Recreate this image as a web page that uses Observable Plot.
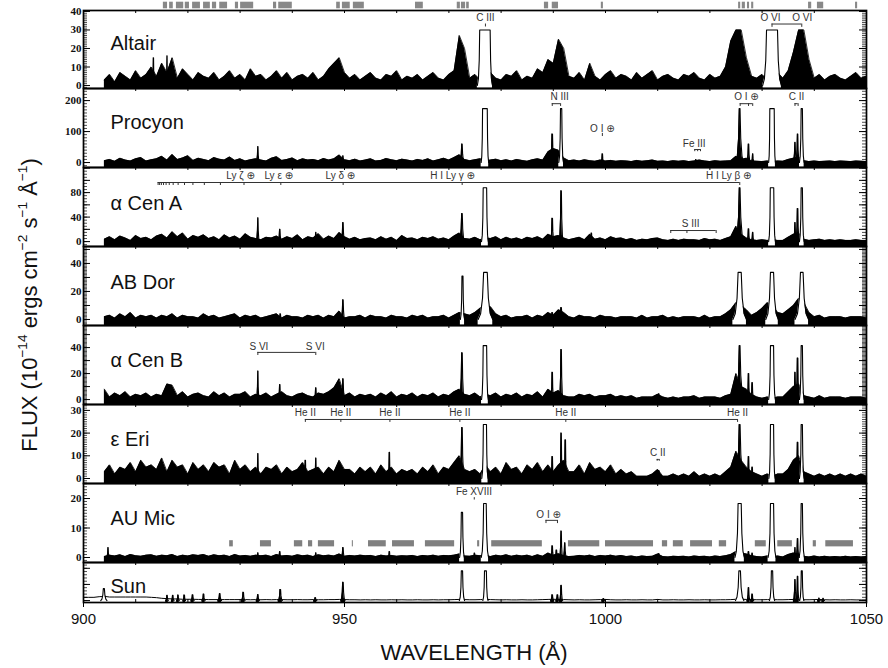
<!DOCTYPE html>
<html><head><meta charset="utf-8">
<script src="https://cdn.jsdelivr.net/npm/d3@7"></script>
<script src="https://cdn.jsdelivr.net/npm/@observablehq/plot@0.6"></script>
<style>
body{margin:0;background:#fff;}
#wrap{position:relative;width:888px;height:668px;font-family:"Liberation Sans",Arial,sans-serif;}
#wrap svg{position:absolute;left:0;overflow:visible;}
.ttl{position:absolute;font-size:22px;color:#111;white-space:nowrap;}
.ttl sup{font-size:0.62em;vertical-align:0.7em;line-height:0;}
</style></head><body><div id="wrap"></div>
<script>
// ---------------- DATA ----------------
const xDomain = [900, 1050];
const xLabels = [900, 950, 1000, 1050];
const fluxStart = 904;   // first wavelength of the 1 Å sampled stellar spectra
const sunStart = 900;

const altairFlux = [3,6,2,7,5,3,8,4,6,10, 5,12,7,15,4,9,6,3,7,5, 4,7,3,5,8,4,6,3,9,5, 6,3,5,8,4,7,3,5,6,4,
  7,3,5,9,12,15,7,4,6,3, 5,7,4,3,6,5,8,3,5,4, 6,3,5,7,4,3,6,8,27,20, 4,6,3,5,7,4,3,6,5,8,
  3,5,4,9,7,14,12,25,20,5, 4,7,3,12,5,3,6,8,4,6, 5,3,7,4,6,8,3,5,6,4, 3,6,5,7,4,3,6,4,5,10,
  24,30,30,15,5,4,6,3,5,7, 4,8,18,30,30,14,4,6,3,5, 6,4,3,5,7,4,5];
const procyonFlux = [6,10,4,14,8,5,12,16,5,9, 12,20,8,26,10,15,22,7,14,10, 6,16,11,8,18,7,12,5,9,12, 8,5,14,19,7,10,15,6,12,8,
  10,6,13,8,12,24,9,6,11,5, 8,12,5,7,13,9,6,11,8,5, 10,7,12,5,9,14,8,16,25,10, 6,9,12,5,8,11,6,9,5,10,
  7,4,9,12,8,35,45,40,15,6, 8,5,9,6,4,8,5,7,4,6, 5,3,7,4,6,8,4,5,3,6, 4,6,3,5,8,5,3,6,4,5,
  6,20,10,14,5,4,3,5,3,5, 4,10,14,18,6,3,5,3,4,5, 3,5,4,3,5,4,3];
const cenAFlux = [4,8,3,9,6,2,10,5,7,3, 9,12,6,16,8,14,4,10,7,11, 5,8,3,11,6,9,4,13,7,5, 3,7,6,9,4,8,5,11,3,8,
  6,13,4,9,5,15,8,4,7,3, 5,6,3,8,4,7,2,10,5,6, 3,7,5,8,4,6,3,9,14,5, 4,7,3,6,5,8,3,7,4,6,
  3,7,5,8,4,12,8,10,6,3, 5,7,3,12,4,6,3,8,5,6, 3,5,2,4,3,5,6,3,2,4, 2,4,3,3,2,5,3,4,2,5,
  8,25,12,6,3,2,3,2,3,2, 2,7,12,14,4,2,3,4,2,3, 2,3,2,2,3,2,2];
const abDorFlux = [2,3,1,4,2,5,1,3,2,3, 1,3,2,4,1,3,2,2,1,4, 2,3,1,2,3,4,1,3,2,3, 1,2,3,4,1,3,2,2,1,3,
  2,3,1,3,2,6,1,2,2,3, 1,3,2,2,1,3,2,2,1,3, 2,3,1,2,2,3,1,3,5,4, 3,5,8,10,9,4,2,3,1,2,
  2,3,1,3,2,5,3,7,5,2, 1,3,2,2,1,3,2,2,1,2, 2,2,1,3,1,2,2,3,1,2, 1,2,2,2,1,3,1,2,2,4,
  7,12,10,7,3,5,8,12,10,5, 4,7,10,15,12,5,2,3,1,2, 2,2,1,2,2,2,1];
const cenBFlux = [8,2,5,3,6,2,4,3,5,2, 4,3,12,11,3,6,2,4,5,3, 2,6,3,5,2,4,4,6,2,4, 3,5,2,4,6,3,2,4,5,3,
  2,5,4,6,9,16,3,5,2,4, 3,4,2,5,3,6,2,4,3,5, 2,4,3,5,2,4,3,6,8,4, 3,5,2,4,3,5,2,4,3,5,
  2,4,3,6,2,8,5,7,3,2, 2,4,3,4,2,3,3,4,2,3, 2,3,1,2,2,2,4,2,1,2, 1,2,2,3,1,2,2,2,1,3,
  4,20,10,8,4,2,1,2,1,2, 2,6,10,12,3,2,1,3,1,2, 2,2,1,2,2,2,1];
const epsEriFlux = [3,6,2,5,4,7,3,8,5,6, 4,9,3,8,5,6,2,7,4,6, 3,7,5,6,2,8,4,6,3,5, 2,5,4,6,2,5,3,4,7,3,
  4,5,2,5,3,8,4,4,2,5, 3,5,2,6,3,5,2,4,3,4, 2,5,3,6,2,5,4,7,10,4, 3,4,2,6,3,5,2,7,4,5,
  2,6,4,7,3,6,3,6,8,3, 3,6,2,7,4,5,3,6,2,4, 2,3,1,1,1,2,4,1,1,2, 1,2,1,3,1,2,1,2,1,3,
  5,12,8,5,3,2,1,2,1,2, 2,4,8,10,3,2,1,2,1,2, 1,2,1,2,1,2,1];
const auMicFlux = [0.3,0.8,0.5,0.9,0.3,1.0,0.6,0.4,0.8,0.9, 0.4,0.8,0.6,1.0,0.3,0.8,0.5,0.9,0.7,1.0,
  0.4,0.9,0.6,0.8,0.3,1.0,0.5,0.7,0.4,0.8, 0.6,0.8,0.3,1.0,0.5,0.7,0.4,0.9,0.6,0.8,
  0.3,0.9,0.6,0.8,0.5,1.2,0.4,0.7,0.5,0.8, 0.6,0.7,0.3,0.8,0.5,0.7,0.4,0.6,0.5,0.7,
  0.3,0.7,0.5,0.8,0.4,0.7,0.6,0.8,1.2,0.5, 0.4,0.8,0.6,0.7,0.3,0.8,0.5,0.9,0.4,0.8,
  0.5,0.8,0.3,0.9,0.4,1.5,0.8,1.3,0.6,0.3, 0.4,0.7,0.5,0.8,0.3,0.7,0.5,0.8,0.4,0.7,
  0.3,0.5,0.2,0.5,0.3,0.4,1.2,0.3,0.2,0.4, 0.3,0.4,0.2,0.5,0.3,0.4,0.2,0.5,0.3,0.6,
  1.0,2.0,1.5,1.2,0.6,0.3,0.2,0.5,0.2,0.5, 0.2,1.0,1.5,1.2,0.4,0.2,0.5,0.2,0.4,0.2,
  0.3,0.2,0.4,0.2,0.3,0.2,0.3];
const sunFlux = [1.0,1.0,1.0,1.2,1.3,1.1,1.1,1.1,1.1,1.1, 1.1,1.1,1.1,1.0,0.9,0.7,0.6,0.5,0.5,0.4,
  0.4,0.4,0.35,0.35,0.3,0.3,0.3,0.3,0.3,0.3, 0.3,0.3,0.25,0.3,0.25,0.3,0.25,0.3,0.3,0.25,
  0.25,0.3,0.25,0.25,0.3,0.25,0.25,0.3,0.3,0.35, 0.3,0.25,0.25,0.2,0.25,0.2,0.25,0.2,0.2,0.25,
  0.2,0.25,0.2,0.2,0.25,0.2,0.2,0.25,0.2,0.25, 0.25,0.3,0.35,0.3,0.25,0.25,0.3,0.35,0.3,0.25,
  0.2,0.25,0.2,0.2,0.25,0.2,0.2,0.25,0.3,0.35, 0.4,0.35,0.3,0.25,0.2,0.25,0.2,0.2,0.25,0.3,
  0.35,0.25,0.2,0.2,0.25,0.2,0.2,0.25,0.2,0.2, 0.35,0.2,0.2,0.25,0.2,0.2,0.25,0.2,0.2,0.25,
  0.2,0.2,0.25,0.25,0.3,0.4,0.4,0.35,0.3,0.25, 0.25,0.3,0.3,0.25,0.25,0.3,0.35,0.3,0.25,0.25,
  0.3,0.35,0.25,0.2,0.25,0.2,0.2,0.25,0.2,0.2, 0.2];

// emission lines: [centre Å, peak (as plotted), half width at base Å, half width at top Å]
const altairLines = [[913.4,15,0.2,0.02],[916.0,16,0.2,0.02],[976.9,30,1.45,1.0],[1031.9,30,1.8,1.05]];
const procyonLines = [[933.4,52,0.3,0.03],[949.7,22,0.3,0.03],[972.5,60,0.45,0.05],[976.9,174,0.72,0.45],
  [989.8,92,0.4,0.05],[991.5,174,0.45,0.12],[999.4,28,0.3,0.03],[1017.3,10,0.3,0.03],[1025.7,174,0.75,0.07],
  [1027.4,60,0.35,0.04],[1028.2,28,0.3,0.03],[1031.9,174,0.65,0.42],[1036.3,65,0.35,0.04],[1036.8,92,0.35,0.04],[1037.6,174,0.45,0.12]];
const cenALines = [[933.4,39,0.3,0.03],[937.6,20,0.35,0.04],[944.5,15,0.3,0.03],[949.7,31,0.35,0.05],
  [972.5,46,0.5,0.06],[976.9,88,0.65,0.33],[989.8,38,0.35,0.05],[991.5,83,0.4,0.05],[997.3,14,0.3,0.03],
  [1025.7,88,0.8,0.07],[1027.4,21,0.3,0.04],[1028.2,15,0.3,0.04],[1031.9,88,0.65,0.33],[1036.3,31,0.3,0.04],
  [1036.8,54,0.35,0.05],[1037.6,88,0.45,0.12]];
const abDorLines = [[937.7,4,0.3,0.03],[949.7,14,0.35,0.05],[972.6,31,0.4,0.1],[977.0,33.6,1.4,0.35],
  [989.8,5,0.4,0.05],[991.5,8.5,0.5,0.05],[1025.7,33.6,1.3,0.3],[1031.9,33.6,1.2,0.3],[1037.6,33.6,1.3,0.25]];
const cenBLines = [[933.4,22,0.25,0.03],[937.6,11.5,0.3,0.04],[944.5,9,0.3,0.04],[949.7,16,0.35,0.05],
  [972.5,36,0.45,0.06],[976.9,41.5,0.65,0.33],[989.8,21,0.3,0.04],[991.5,38.5,0.35,0.05],[1010.2,4.5,0.3,0.05],
  [1025.7,41.5,0.8,0.07],[1027.4,20,0.3,0.04],[1028.1,13,0.3,0.04],[1031.9,41.5,0.65,0.3],[1036.3,21,0.3,0.04],
  [1036.8,32,0.35,0.05],[1037.6,41.5,0.45,0.12]];
const epsEriLines = [[933.4,11,0.25,0.03],[942.5,8,0.25,0.03],[944.5,9,0.25,0.03],[958.6,11.5,0.25,0.03],
  [972.5,22.5,0.45,0.06],[976.9,23.8,0.6,0.3],[989.8,9.7,0.3,0.04],[991.5,20,0.3,0.04],[992.3,17,0.3,0.04],
  [1010.2,3.5,0.4,0.05],[1025.7,23.8,0.8,0.08],[1027.4,9.7,0.3,0.04],[1028.1,5,0.3,0.04],[1031.9,23.8,0.6,0.3],
  [1036.3,5,0.3,0.04],[1036.8,16,0.35,0.05],[1037.6,23.8,0.45,0.12]];
const auMicLines = [[904.7,3.4,0.25,0.03],[933.4,1.6,0.25,0.03],[937.6,2,0.3,0.04],[944.5,1.6,0.25,0.03],
  [949.7,3.4,0.3,0.05],[958.6,2,0.25,0.03],[972.5,15.3,0.45,0.12],[974.9,1.5,0.25,0.03],[976.9,18.3,0.7,0.25],
  [989.8,4,0.3,0.04],[990.6,2.5,0.3,0.04],[991.5,9,0.3,0.04],[992.2,5,0.3,0.04],[1010.2,1.3,0.3,0.05],
  [1025.7,18.3,0.9,0.3],[1027.4,2,0.3,0.04],[1028.1,1.5,0.25,0.03],[1031.9,18.3,0.75,0.3],[1036.3,3.4,0.25,0.03],
  [1036.8,6.4,0.3,0.04],[1037.6,18.3,0.5,0.12]];
const sunLines = [[903.9,3.7,0.6,0.1],[916.0,1.6,0.25,0.05],[917.1,1.6,0.25,0.05],[918.1,1.7,0.25,0.05],
  [919.3,1.7,0.25,0.05],[920.9,1.8,0.3,0.05],[923.0,2.0,0.3,0.05],[926.1,2.2,0.35,0.05],[930.6,2.6,0.35,0.05],
  [933.4,1.9,0.3,0.05],[937.7,3.4,0.4,0.06],[944.4,0.9,0.3,0.05],[949.7,5.7,0.4,0.06],[972.5,9.2,0.5,0.12],
  [977.0,9.2,0.5,0.18],[989.8,1.8,0.3,0.05],[990.8,1.8,0.3,0.05],[991.5,4.7,0.3,0.05],[999.6,0.6,0.3,0.05],
  [1025.7,9.2,0.8,0.15],[1027.4,4.0,0.3,0.04],[1028.1,2.0,0.3,0.04],[1031.9,9.2,0.5,0.12],[1036.3,6.5,0.3,0.04],
  [1036.8,7.5,0.3,0.04],[1037.6,9.2,0.4,0.1],[1040.9,0.8,0.25,0.03],[1041.7,0.7,0.25,0.03]];

// flagged wavelength ranges (grey bars)
const topBars = [[915.3,916.1],[916.5,917.2],[917.8,919.2],[919.5,920.3],[920.9,922.4],[923.0,924.3],[924.7,925.5],
  [926.1,927.6],[929.1,929.7],[930.1,932.6],[936.4,937.0],[937.4,940.0],[948.5,949.2],[949.6,951.1],[951.7,953.8],
  [963.6,965.1],[971.6,972.2],[972.4,973.2],[973.4,973.9],[988.3,989.1],[989.8,991.0],[999.2,999.6],
  [1025.5,1025.9],[1026.2,1026.8],[1027.2,1027.6],[1028.0,1028.4],[1038.9,1039.5],[1040.6,1041.8],[1047.9,1048.3]];
const auMicBars = [[928.0,928.7],[933.9,936.0],[940.4,942.0],[943.1,943.9],[945.0,948.1],[951.5,951.7],[954.6,958.0],
  [959.2,963.4],[965.5,971.1],[975.5,975.9],[978.2,987.9],[992.9,998.9],[1000.0,1009.2],[1010.9,1011.9],
  [1013.0,1014.9],[1016.3,1020.5],[1021.8,1023.2],[1028.7,1030.8],[1033.0,1035.8],[1039.8,1040.4],[1042.2,1047.5]];

// line identifications
const lymanSeries = [1025.72,972.54,949.74,937.80,930.75,926.23,923.15,920.96,919.35,918.13,917.18,916.43,915.82,915.33,914.92,914.58,914.29];
const lymanLabels = [{t:"Ly ζ ⊕",x:930.1},{t:"Ly ε ⊕",x:937.4},{t:"Ly δ ⊕",x:949.2},{t:"H I Ly γ ⊕",x:970.7},{t:"H I Ly β ⊕",x:1023.6}];
const heIISeries = [942.5,949.3,958.7,972.1,992.4,1025.3];
const sviLines = [933.4,944.5];
const siiiLines = [1012.5,1015.6,1021.2];
const oviLines = [1031.9,1037.6];
const niiiLines = [989.8,991.4];
const oiLines = [1025.8,1027.4,1028.2];
const ciiLines = [1036.3,1036.9];
const feiiiLines = [1017.1,1017.65,1018.2];

// panel y tick labels
const altairTicks = [0,10,20,30,40];
const procyonTicks = [0,100,200];
const cenATicks = [0,40,80];
const abDorTicks = [0,20,40];
const cenBTicks = [0,20,40];
const epsEriTicks = [0,10,20,30];
const auMicTicks = [0,10,20];

// ---------------- DRAWING ----------------
const W = 888, ML = 83, MR = 22, PW = W - ML - MR;
const wrap = document.getElementById("wrap");
const note = {fontSize: 10, fill: "#333", fontFamily: "Liberation Sans, DejaVu Sans, sans-serif"};

function profilePoints(lines) {
  const out = [];
  lines.forEach(([c, p, w, t], id) => {
    const s = w - t;
    const off = [-w, -t - 0.55 * s, -t - 0.2 * s, -t, t, t + 0.2 * s, t + 0.55 * s, w];
    const frac = [0, 0.12, 0.45, 1, 1, 0.45, 0.12, 0];
    off.forEach((o, k) => out.push({id, x: c + o, y: p * frac[k], hollow: t >= 0.1}));
  });
  return out;
}
function bracket(xs, y, yEnd) {
  return [Plot.ruleY([y], {x1: d3.min(xs), x2: d3.max(xs), stroke: "#333", strokeWidth: 1}),
          Plot.ruleX(xs, {x: d => d, y1: y, y2: yEnd, stroke: "#333", strokeWidth: 1})];
}
function labels(list, y) {
  return Plot.text(list, {x: "x", y, text: "t", ...note});
}

function panel(p) {
  const H = p.bottom - p.top;
  const [y0, y1] = p.domain;
  const spec = p.flux.map((v, i) => ({x: p.start + i, y: v}));
  const prof = profilePoints(p.lines);
  const inDom = v => v >= y0 && v <= y1;
  const minor = d3.range(p.minor[0], p.minor[1] + 0.001, p.minor[2]).filter(inDom);
  const xMinor = d3.range(910, 1050, 10);
  const marks = [];
  if (p.filled) marks.push(Plot.areaY(spec, {x: "x", y1: y0, y2: "y", fill: "black"}));
  marks.push(Plot.lineY(spec, {x: "x", y: "y", stroke: "black", strokeWidth: p.filled ? 0.8 : 1}));
  marks.push(Plot.areaY(prof.filter(d => d.hollow), {x: "x", y1: y0, y2: "y", z: "id", fill: "white"}));
  marks.push(Plot.areaY(prof.filter(d => !d.hollow), {x: "x", y1: y0, y2: "y", z: "id", fill: "black"}));
  marks.push(Plot.lineY(prof, {x: "x", y: "y", z: "id", stroke: "black", strokeWidth: 1.1}));
  if (p.extra) marks.push(...p.extra);
  marks.push(
    Plot.tickY(minor, {y: d => d, insetRight: PW - 4, stroke: "black", strokeWidth: 0.7}),
    Plot.tickY(minor, {y: d => d, insetLeft: PW - 4, stroke: "black", strokeWidth: 0.7}),
    Plot.tickY(p.major.filter(inDom), {y: d => d, insetRight: PW - 7, stroke: "black", strokeWidth: 1}),
    Plot.tickY(p.major.filter(inDom), {y: d => d, insetLeft: PW - 7, stroke: "black", strokeWidth: 1}),
    Plot.tickX(xMinor, {x: d => d, insetTop: H - 3, stroke: "black"}),
    Plot.tickX(xMinor, {x: d => d, insetBottom: H - 3, stroke: "black"}),
    Plot.frame({stroke: "black", strokeWidth: 1.7}),
    Plot.text(p.ticks || [], {y: d => d, text: d => String(d), frameAnchor: "left", textAnchor: "end", dx: -2,
      fontFamily: "Liberation Serif, Times New Roman, serif", fontWeight: "bold", fontSize: 11, fill: "#111"}),
    Plot.text([p.name], {text: d => d, frameAnchor: "top-left", dx: 27, dy: p.nameDy, textAnchor: "start",
      fontSize: 20, fontFamily: "Liberation Sans, Arial, sans-serif", fill: "#111"})
  );
  if (p.bottomAxis) {
    marks.push(
      Plot.tickX(xLabels, {x: d => d, insetTop: H, insetBottom: -5, stroke: "black"}),
      Plot.text(xLabels, {x: d => d, text: d => String(d), frameAnchor: "bottom", dy: 21, fontSize: 15,
        fontFamily: "Liberation Sans, Arial, sans-serif", fill: "#111"})
    );
  }
  const svg = Plot.plot({
    width: W, height: H, marginLeft: ML, marginRight: MR, marginTop: 0, marginBottom: 0,
    x: {domain: xDomain, axis: null}, y: {domain: p.domain, axis: null},
    style: {background: "transparent", overflow: "visible", fontFamily: "Liberation Sans, sans-serif"},
    marks
  });
  svg.style.top = p.top + "px";
  wrap.appendChild(svg);
}

// grey flagged ranges above the top panel
const strip = Plot.plot({
  width: W, height: 10, marginLeft: ML, marginRight: MR, marginTop: 0, marginBottom: 0,
  x: {domain: xDomain, axis: null},
  style: {background: "transparent", overflow: "visible"},
  marks: [Plot.barX(topBars, {x1: d => d[0], x2: d => d[1], insetTop: 1.7, insetBottom: 1.7, fill: "#888"})]
});
strip.style.top = "0px";
wrap.appendChild(strip);

const panels = [
  {name: "Altair", top: 10, bottom: 88, domain: [-1.6, 40.5], flux: altairFlux, start: fluxStart, lines: altairLines,
   filled: true, ticks: altairTicks, major: altairTicks, minor: [-1, 40, 1], nameDy: 25.5,
   extra: [labels([{t: "C III", x: 977.0}, {t: "O VI", x: 1031.6}, {t: "O VI", x: 1037.7}], 36.7),
           Plot.ruleX([977.0], {x: d => d, y1: 33.2, y2: 31.6, stroke: "#333"}),
           ...bracket(oviLines, 33.2, 31.4)]},
  {name: "Procyon", top: 88, bottom: 167, domain: [-16, 239], flux: procyonFlux, start: fluxStart, lines: procyonLines,
   filled: true, ticks: procyonTicks, major: procyonTicks, minor: [-10, 230, 10], nameDy: 26.5,
   extra: [labels([{t: "N III", x: 991.2}, {t: "O I ⊕", x: 1027.0}, {t: "C II", x: 1036.6}], 213),
           ...bracket(niiiLines, 190, 181), ...bracket(oiLines, 190, 181), ...bracket(ciiLines, 190, 181),
           labels([{t: "O I ⊕", x: 999.4}], 110), Plot.ruleX([999.4], {x: d => d, y1: 94, y2: 84, stroke: "#333"}),
           labels([{t: "Fe III", x: 1017.0}], 61), ...bracket(feiiiLines, 42, 35)]},
  {name: "α Cen A", top: 167, bottom: 246, domain: [-8, 121], flux: cenAFlux, start: fluxStart, lines: cenALines,
   filled: true, ticks: cenATicks, major: [0, 20, 40, 60, 80, 100, 120], minor: [-5, 120, 5], nameDy: 28,
   extra: [labels(lymanLabels, 107.5), ...bracket(lymanSeries, 96.5, 91.6),
           labels([{t: "S III", x: 1016.3}], 29.6), ...bracket(siiiLines, 18.1, 13.2)]},
  {name: "AB Dor", top: 246, bottom: 325, domain: [-4.3, 52.1], flux: abDorFlux, start: fluxStart, lines: abDorLines,
   filled: true, ticks: abDorTicks, major: [0, 10, 20, 30, 40, 50], minor: [-4, 52, 1], nameDy: 28.5},
  {name: "α Cen B", top: 325, bottom: 404, domain: [-3.8, 57], flux: cenBFlux, start: fluxStart, lines: cenBLines,
   filled: true, ticks: cenBTicks, major: [0, 10, 20, 30, 40, 50], minor: [-3, 57, 1], nameDy: 27.5,
   extra: [labels([{t: "S VI", x: 933.6}, {t: "S VI", x: 944.4}], 40.9), ...bracket(sviLines, 36.3, 33.9)]},
  {name: "ε Eri", top: 404, bottom: 483, domain: [-2.2, 32.6], flux: epsEriFlux, start: fluxStart, lines: epsEriLines,
   filled: true, ticks: epsEriTicks, major: epsEriTicks, minor: [-2, 32, 1], nameDy: 27.5,
   extra: [labels(heIISeries.map(x => ({t: "He II", x})), 29.1), ...bracket(heIISeries, 26.0, 24.7),
           labels([{t: "C II", x: 1010.0}], 11.5), ...bracket([1009.9, 1010.3], 8.4, 7.6)]},
  {name: "AU Mic", top: 483, bottom: 562, domain: [-1.7, 25.1], flux: auMicFlux, start: fluxStart, lines: auMicLines,
   filled: true, ticks: auMicTicks, major: auMicTicks, minor: [-1, 25, 1], nameDy: 27,
   extra: [Plot.rect(auMicBars, {x1: d => d[0], x2: d => d[1], y1: 3.6, y2: 5.7, fill: "#808080"}),
           labels([{t: "Fe XVIII", x: 974.8}], 22.4), Plot.ruleX([974.86], {x: d => d, y1: 20.3, y2: 19.5, stroke: "#333"}),
           labels([{t: "O I ⊕", x: 989.1}], 14.6), ...bracket([988.6, 990.8], 12.6, 11.5)]},
  {name: "Sun", top: 562, bottom: 602, domain: [-0.6, 11.8], flux: sunFlux, start: sunStart, lines: sunLines,
   filled: false, ticks: [], major: [0, 5, 10], minor: [0, 11, 1], nameDy: 16.5, bottomAxis: true}
];
panels.forEach(panel);

// axis titles
const xt = document.createElement("div");
xt.className = "ttl";
xt.innerHTML = "WAVELENGTH (Å)";
xt.style.left = "474px"; xt.style.top = "653px"; xt.style.transform = "translate(-50%,-50%)";
wrap.appendChild(xt);
const yt = document.createElement("div");
yt.className = "ttl";
yt.innerHTML = "FLUX (10<sup>−14</sup> ergs cm<sup>−2</sup> s<sup>−1</sup> Å<sup>−1</sup>)";
yt.style.left = "30px"; yt.style.top = "305px"; yt.style.transform = "translate(-50%,-50%) rotate(-90deg)";
wrap.appendChild(yt);
</script></body></html>
